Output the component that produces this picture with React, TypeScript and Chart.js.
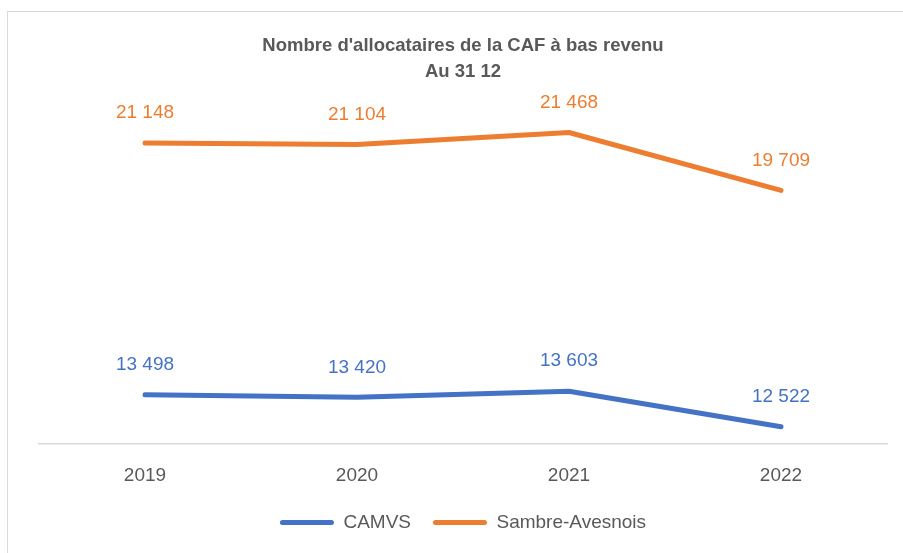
import React, { useEffect, useRef } from "react";
import { Chart, registerables } from "chart.js";

Chart.register(...registerables);

const categories = ["2019", "2020", "2021", "2022"];
const camvs = [13498, 13420, 13603, 12522];
const sambre = [21148, 21104, 21468, 19709];
const titleLines = ["Nombre d'allocataires de la CAF à bas revenu", "Au 31 12"];

const BLUE = "#4472C4";
const ORANGE = "#ED7D31";
const GREY = "#595959";
const FONT = "'Liberation Sans', Arial, sans-serif";

const fmt = (v: number) => {
  const s = String(Math.round(v));
  return s.replace(/\B(?=(\d{3})+(?!\d))/g, " ");
};

const dataLabels = {
  id: "dataLabels",
  afterDatasetsDraw(chart: any) {
    const ctx = chart.ctx;
    ctx.save();
    ctx.font = `19px ${FONT}`;
    ctx.textAlign = "center";
    ctx.textBaseline = "middle";
    chart.data.datasets.forEach((ds: any, i: number) => {
      const meta = chart.getDatasetMeta(i);
      ctx.fillStyle = ds.borderColor;
      meta.data.forEach((pt: any, j: number) => {
        ctx.fillText(fmt(ds.data[j]), pt.x, pt.y - 30);
      });
    });
    ctx.restore();
  },
};

export default function App() {
  const ref = useRef<HTMLCanvasElement>(null);
  useEffect(() => {
    if (!ref.current) return;
    const chart = new Chart(ref.current, {
      type: "line",
      data: {
        labels: categories,
        datasets: [
          {
            label: "CAMVS",
            data: camvs,
            borderColor: BLUE,
            backgroundColor: BLUE,
            borderWidth: 5,
            pointRadius: 0,
            borderCapStyle: "round",
            borderJoinStyle: "round",
            tension: 0,
          },
          {
            label: "Sambre-Avesnois",
            data: sambre,
            borderColor: ORANGE,
            backgroundColor: ORANGE,
            borderWidth: 5,
            pointRadius: 0,
            borderCapStyle: "round",
            borderJoinStyle: "round",
            tension: 0,
          },
        ],
      },
      plugins: [dataLabels],
      options: {
        animation: false,
        responsive: false,
        maintainAspectRatio: false,
        layout: { padding: { left: 39, right: 16, top: 0, bottom: 11 } },
        plugins: {
          tooltip: { enabled: false },
          title: {
            display: true,
            text: titleLines,
            color: GREY,
            font: { family: FONT, size: 18.5, weight: "bold", lineHeight: 1.405 },
            padding: { top: 33, bottom: 30 },
          },
          legend: {
            position: "bottom",
            labels: {
              color: GREY,
              font: { family: FONT, size: 19 },
              boxWidth: 54,
              boxHeight: 5,
              padding: 22,
              useBorderRadius: true,
              borderRadius: 2.5,
              generateLabels: (chart: any) =>
                chart.data.datasets.map((ds: any, i: number) => ({
                  text: ds.label,
                  fillStyle: ds.borderColor,
                  strokeStyle: ds.borderColor,
                  lineWidth: 0,
                  hidden: false,
                  datasetIndex: i,
                  fontColor: GREY,
                  borderRadius: 2.5,
                })),
            },
          },
        },
        scales: {
          x: {
            offset: true,
            grid: { display: false, drawTicks: false },
            border: { display: true, color: "#D9D9D9", width: 1.5 },
            ticks: { color: GREY, font: { family: FONT, size: 19 }, padding: 20 },
            afterFit: (s: any) => {
              s.height = 47;
            },
          },
          y: {
            display: false,
            min: 12000,
            max: 22000,
          },
        },
      },
    });
    return () => chart.destroy();
  }, []);
  return (
    <div style={{ position: "absolute", left: 0, top: 0, width: 903, height: 553, overflow: "hidden", background: "#fff" }}>
      <div
        style={{
          position: "absolute",
          left: 7,
          top: 11,
          width: 1000,
          height: 1000,
          border: "1px solid #D9D9D9",
        }}
      />
      <canvas ref={ref} width={903} height={553} style={{ position: "absolute", left: 0, top: 0 }} />
    </div>
  );
}
